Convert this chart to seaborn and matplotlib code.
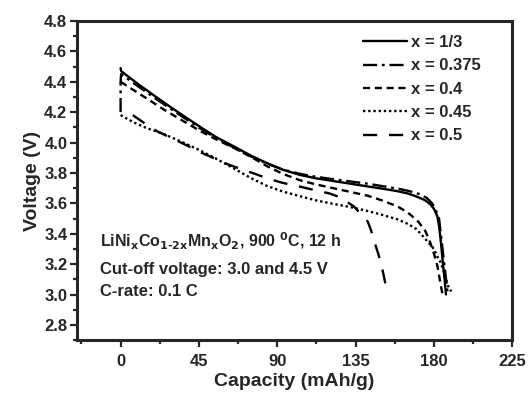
import matplotlib
matplotlib.use("Agg")
import matplotlib.pyplot as plt
import pandas as pd
import seaborn as sns

# discharge curves
labels = ["x = 1/3", "x = 0.375", "x = 0.4", "x = 0.45", "x = 0.5"]

cap_13 = [0, 0.3, 10, 20, 30, 45, 55, 65, 75, 84, 93, 103, 112, 122, 132, 142, 150, 159,
          165, 170, 175, 178, 180, 182, 183, 184, 185, 186, 187]
volt_13 = [4.49, 4.47, 4.385, 4.303, 4.223, 4.108, 4.035, 3.975, 3.913, 3.865, 3.822, 3.787, 3.765,
           3.747, 3.729, 3.711, 3.697, 3.68, 3.665, 3.645, 3.62, 3.593, 3.565, 3.515, 3.45,
           3.35, 3.23, 3.12, 3.0]

cap_0375 = [0, 0, 0.3, 10, 20, 30, 45, 55, 65, 75, 84, 93, 103, 112, 122, 132, 142, 150, 160,
            166, 172, 176, 179, 181, 183, 184, 185, 186, 187, 188]
volt_0375 = [4.20, 4.40, 4.45, 4.37, 4.29, 4.212, 4.098, 4.028, 3.967, 3.908, 3.862, 3.823, 3.794,
             3.775, 3.759, 3.744, 3.729, 3.714, 3.695, 3.68, 3.66, 3.635, 3.60, 3.56, 3.50,
             3.40, 3.30, 3.20, 3.10, 3.0]

cap_04 = [0, 4, 15, 25, 35, 46, 55, 65, 75, 84, 93, 103, 112, 122, 132, 142, 150, 159, 165,
          171, 175, 178, 180, 182, 184, 185]
volt_04 = [4.40, 4.37, 4.29, 4.216, 4.148, 4.074, 4.02, 3.965, 3.905, 3.845, 3.795, 3.752, 3.725,
           3.70, 3.675, 3.65, 3.62, 3.58, 3.54, 3.48, 3.42, 3.34, 3.27, 3.19, 3.06, 3.0]

cap_045 = [0, 8, 15, 25, 35, 45, 55, 65, 75, 84, 93, 103, 112, 122, 132, 140, 150, 159, 165,
           170, 174, 177, 180, 182, 184, 186, 188, 190]
volt_045 = [4.18, 4.13, 4.095, 4.055, 4.005, 3.952, 3.893, 3.83, 3.765, 3.715, 3.678, 3.647, 3.62,
            3.597, 3.575, 3.555, 3.525, 3.495, 3.465, 3.43, 3.38, 3.34, 3.30, 3.25, 3.21,
            3.14, 3.06, 3.02]

cap_05 = [7, 14, 21, 35, 48, 62, 70, 77, 84, 93, 103, 112, 120, 126, 130, 134, 138, 142, 144,
          146, 148, 150, 152, 153]
volt_05 = [4.18, 4.125, 4.074, 3.998, 3.925, 3.855, 3.822, 3.795, 3.765, 3.735, 3.71, 3.685, 3.665,
           3.64, 3.61, 3.58, 3.53, 3.48, 3.42, 3.34, 3.27, 3.19, 3.08, 3.0]

caps = [cap_13, cap_0375, cap_04, cap_045, cap_05]
volts = [volt_13, volt_0375, volt_04, volt_045, volt_05]
styles = ["-", (0, (6, 2, 1.2, 2)), (0, (3, 2)), (0, (1, 1.2)), (0, (6, 5))]

sns.set_style("ticks")
plt.rcParams["font.family"] = ["Liberation Sans", "DejaVu Sans"]
plt.rcParams["font.weight"] = "bold"
plt.rcParams["axes.labelweight"] = "bold"

fig = plt.figure(figsize=(5.28, 3.95), dpi=100)
ax = fig.add_axes([0.146, 0.139, 0.824, 0.808])

for lab, c, v, ls in zip(labels, caps, volts, styles):
    df = pd.DataFrame({"cap": c, "volt": v})
    sns.lineplot(data=df, x="cap", y="volt", color="black", sort=False, estimator=None,
                 lw=1.7, linestyle=ls, label=lab, ax=ax)

leg = ax.legend(loc="upper left", bbox_to_anchor=(0.625, 1.0), frameon=False, fontsize=12,
                handlelength=2.6, labelspacing=0.5, handletextpad=0.25,
                borderaxespad=0.45)
for t in leg.get_texts():
    t.set_fontweight("bold")

ax.set_xlim(-25, 225)
ax.set_ylim(2.7, 4.8)
ax.set_xticks([0, 45, 90, 135, 180, 225])
ax.set_xticks([-22.5, 22.5, 67.5, 112.5, 157.5, 202.5], minor=True)
ax.set_yticks([2.8, 3.0, 3.2, 3.4, 3.6, 3.8, 4.0, 4.2, 4.4, 4.6, 4.8])
ax.set_yticks([2.7, 2.9, 3.1, 3.3, 3.5, 3.7, 3.9, 4.1, 4.3, 4.5, 4.7], minor=True)
ax.tick_params(which="major", length=5, width=1.6, labelsize=12)
ax.tick_params(axis="x", which="major", pad=5)
ax.tick_params(axis="y", which="major", pad=2)
ax.tick_params(which="minor", length=3, width=1.6)
for s in ax.spines.values():
    s.set_linewidth(2.2)
    s.set_visible(True)
for lab in ax.get_xticklabels() + ax.get_yticklabels():
    lab.set_fontweight("bold")

ax.set_xlabel("Capacity (mAh/g)", fontsize=14, fontweight="bold", labelpad=3)
ax.set_ylabel("Voltage (V)", fontsize=14, fontweight="bold", labelpad=2)

ax.text(-12, 3.31, r"LiNi$_\mathbf{x}$Co$_\mathbf{1\text{-}2x}$Mn$_\mathbf{x}$O$_\mathbf{2}$, 900 $^\mathbf{0}$C, 12 h",
        fontsize=11.5, fontweight="bold")
ax.text(-12, 3.134, "Cut-off voltage: 3.0 and 4.5 V", fontsize=12, fontweight="bold")
ax.text(-12, 2.99, "C-rate: 0.1 C", fontsize=12, fontweight="bold")

fig.savefig("out.png", dpi=100)
